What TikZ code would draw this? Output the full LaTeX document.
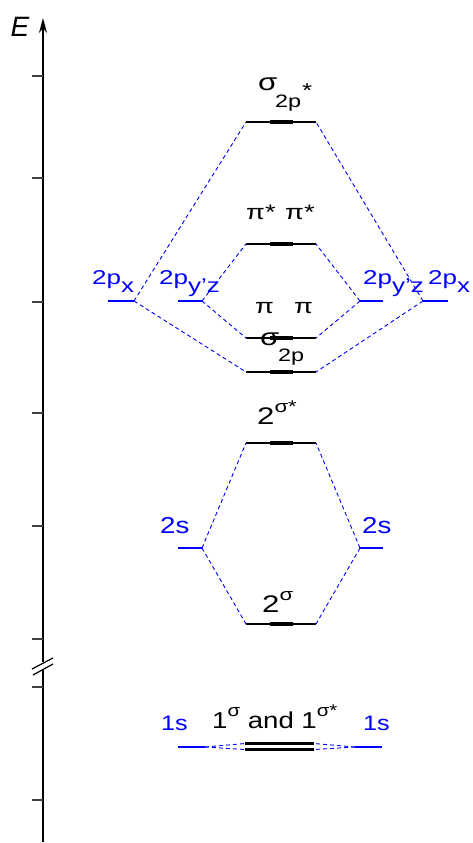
\documentclass[tikz,border=0pt]{standalone}
\usepackage{fontspec}
\usepackage{graphicx}
\setmainfont{Liberation Sans}
\usetikzlibrary{arrows.meta}
\newcommand\fs[1]{\fontsize{#1}{#1}\selectfont}
\newcommand\sx[1]{\scalebox{1.3}[1]{#1}}
\newcommand\sxx[1]{\scalebox{1.2}[1]{#1}}
\begin{document}
\begin{tikzpicture}[x=1pt,y=-1pt,
  mo/.style={line width=2pt, black},
  mothick/.style={line width=4pt, black},
  ao/.style={line width=1.2pt, blue},
  link/.style={blue, line width=0.9pt, dash pattern=on 4pt off 3pt},
  tickmark/.style={line width=1.2pt, black!75},
  lab/.style={inner sep=0pt, anchor=base west, font=\fs{24}},
  aolab/.style={lab, text=blue}]
\useasboundingbox (0,0) rectangle (473,843);
% axis
\coordinate (ax0) at (43,842);
\coordinate (axb1) at (43,670);
\coordinate (axb2) at (43,662);
\coordinate (axtop) at (43,18);
\draw[line width=1.5pt] (ax0) -- (axb1);
\draw[line width=1.5pt,-{Stealth[length=15pt,width=8pt]}] (axb2) -- (axtop);
\draw[line width=1.2pt] (32,669) -- (53,658);
\draw[line width=1.2pt] (33,675) -- (53,664);
\foreach \y in {76,178,302,413,526,639,687,800} \draw[tickmark] (32,\y) -- (43,\y);
\node[font=\fs{28}\itshape, inner sep=0pt] (E) at (20,27) {E};
% MO levels
\newcommand\molevel[2]{%
  \coordinate (#1L) at (246,#2); \coordinate (#1R) at (316,#2);
  \draw[mo] (#1L) -- (#1R); \draw[mothick] (270,#2) -- (293,#2);}
\molevel{sgs}{122}
\molevel{pis}{244}
\molevel{pi}{338}
\molevel{sg}{372}
\molevel{ssa}{443}
\molevel{sb}{624}
\coordinate (oaL) at (245,743.5); \coordinate (oaR) at (314,743.5);
\coordinate (obL) at (245,749.5); \coordinate (obR) at (314,749.5);
\draw[line width=3.5pt] (oaL) -- (oaR);
\draw[line width=3.5pt] (obL) -- (obR);
% AO levels
\newcommand\aolevel[4]{%
  \coordinate (#1A) at (#2,#4); \coordinate (#1B) at (#3,#4);
  \draw[ao] (#1A) -- (#1B);}
\aolevel{lpx}{108}{134}{301}
\aolevel{lpy}{178}{202}{301}
\aolevel{rpy}{360}{383}{301}
\aolevel{rpx}{423}{448}{301}
\aolevel{ls}{178}{202}{548}
\aolevel{rs}{360}{383}{548}
\aolevel{lo}{178}{205}{747}
\aolevel{ro}{355}{382}{747}
% connectors
\draw[link] (lpxB) -- (sgsL);
\draw[link] (lpxB) -- (sgL);
\draw[link] (lpyB) -- (pisL);
\draw[link] (lpyB) -- (piL);
\draw[link] (rpyA) -- (pisR);
\draw[link] (rpyA) -- (piR);
\draw[link] (rpxA) -- (sgsR);
\draw[link] (rpxA) -- (sgR);
\draw[link] (lsB) -- (ssaL);
\draw[link] (lsB) -- (sbL);
\draw[link] (rsA) -- (ssaR);
\draw[link] (rsA) -- (sbR);
\draw[link] (loB) -- (oaL);
\draw[link] (loB) -- (obL);
\draw[link] (roA) -- (oaR);
\draw[link] (roA) -- (obR);
% AO labels
\node[aolab] (t1) at (92,284) {\sx{\fs{20}2p\raisebox{-8pt}{x}}};
\node[aolab] (t2) at (159,284) {\sx{\fs{20}2p\raisebox{-8pt}{y’z}}};
\node[aolab] (t3) at (363,284) {\sx{\fs{20}2p\raisebox{-8pt}{y’z}}};
\node[aolab] (t4) at (428,284) {\sx{\fs{20}2p\raisebox{-8pt}{x}}};
\node[aolab] (t5) at (160,533) {\sxx{\fs{23}2s}};
\node[aolab] (t6) at (362,533) {\sxx{\fs{23}2s}};
\node[aolab] (t7) at (161,730) {\sxx{\fs{21}1s}};
\node[aolab] (t8) at (363,730) {\sxx{\fs{21}1s}};
% MO labels
\node[lab] (m1) at (258,90) {\sx{\fs{24}σ}};
\node[lab] (m2) at (275,107) {\sx{\fs{18}2p}};
\node[lab] (m3) at (302,97) {\sx{\fs{20}*}};
\node[lab] (m4) at (246,219) {\sx{\fs{21}π*}};
\node[lab] (m5) at (285,219) {\sx{\fs{21}π*}};
\node[lab] (m6) at (255,313) {\sx{\fs{21}π}};
\node[lab] (m7) at (294,313) {\sx{\fs{21}π}};
\node[lab] (m8) at (260,345) {\sx{\fs{24}σ}};
\node[lab] (m9) at (278,361) {\sx{\fs{18}2p}};
\node[lab] (m10) at (257,424) {\sx{\fs{24}2\raisebox{12pt}{\fs{17}σ*}}};
\node[lab] (m11) at (262,612) {\sx{\fs{24}2\raisebox{12pt}{\fs{17}σ}}};
\node[lab] (m12) at (212,728) {\sxx{\fs{23}1\raisebox{12pt}{\fs{17}σ} and 1\raisebox{12pt}{\fs{17}σ*}}};
\end{tikzpicture}
\end{document}
